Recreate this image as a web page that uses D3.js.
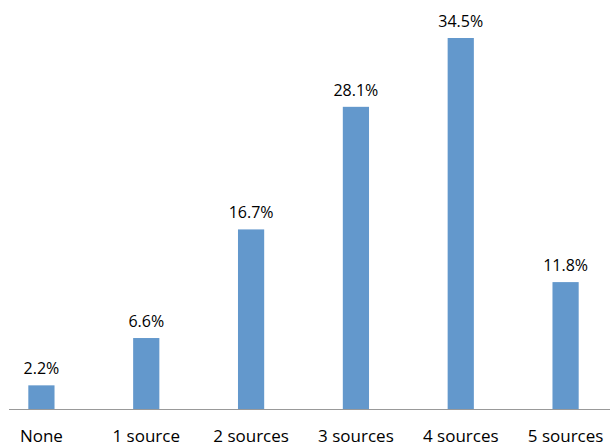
<!DOCTYPE html>
<html>
<head>
<meta charset="utf-8">
<script src="https://cdn.jsdelivr.net/npm/d3@7"></script>
<style>
  body { margin: 0; background: #fff; }
  text { font-family: "Open Sans", "Liberation Sans", sans-serif; fill: #000; }
</style>
</head>
<body>
<div id="chart"></div>
<script>
// data
const categories = ["None", "1 source", "2 sources", "3 sources", "4 sources", "5 sources"];
const shares = [2.2, 6.6, 16.7, 28.1, 34.5, 11.8];

const width = 610, height = 446;
const baseline = 409;

const svg = d3.select("#chart").append("svg")
    .attr("width", width)
    .attr("height", height);

// plot area runs a little past both window edges, like the original
const x = d3.scaleBand()
    .domain(categories)
    .range([-11, 618])
    .paddingInner(0.75)
    .paddingOuter(0.375);

const y = d3.scaleLinear()
    .domain([0, 34.5])
    .range([baseline, 38]);

svg.selectAll("rect.bar")
    .data(shares)
    .join("rect")
    .attr("class", "bar")
    .attr("x", (d, i) => x(categories[i]))
    .attr("y", d => y(d))
    .attr("width", x.bandwidth())
    .attr("height", d => baseline - y(d))
    .attr("fill", "#6398cc");

// value labels
svg.selectAll("text.value")
    .data(shares)
    .join("text")
    .attr("class", "value")
    .attr("x", (d, i) => x(categories[i]) + x.bandwidth() / 2)
    .attr("y", d => y(d) - 11)
    .attr("text-anchor", "middle")
    .attr("font-size", 16)
    .text(d => d.toFixed(1) + "%");

// x axis
const axis = svg.append("g")
    .attr("transform", `translate(0,${baseline})`)
    .call(d3.axisBottom(x).tickSize(0).tickPadding(21));
axis.select(".domain").remove();
axis.selectAll(".tick text")
    .attr("font-size", 17)
    .attr("font-family", "\"Open Sans\", sans-serif")
    .attr("fill", "#000");

svg.append("line")
    .attr("x1", 9).attr("x2", width)
    .attr("y1", baseline + 0.5).attr("y2", baseline + 0.5)
    .attr("stroke", "#999")
    .attr("stroke-width", 1);
</script>
</body>
</html>
